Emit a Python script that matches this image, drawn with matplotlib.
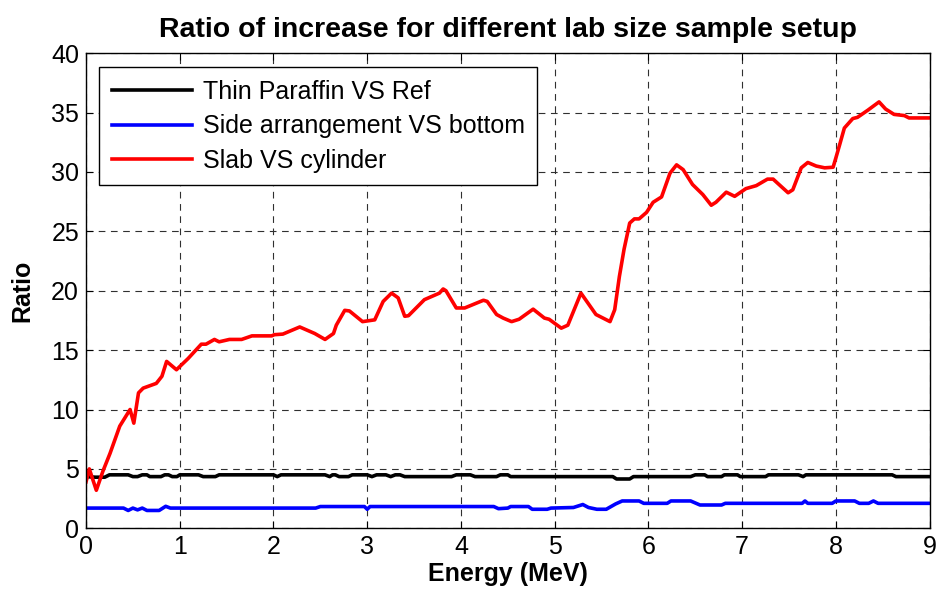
import matplotlib
matplotlib.use("Agg")
import matplotlib.pyplot as plt

plt.rcParams['font.family'] = ['Liberation Sans', 'DejaVu Sans']

# Thin Paraffin VS Ref
black_x = [0, 0.1, 0.2, 0.25, 0.45, 0.5, 0.55, 0.6, 0.65, 0.68, 0.8, 0.84, 0.88, 0.92, 0.97,
           1.0, 1.2, 1.25, 1.38, 1.42, 2.0, 2.04, 2.08, 2.55, 2.6, 2.63, 2.66, 2.7, 2.8, 2.84,
           3.0, 3.05, 3.1, 3.2, 3.25, 3.3, 3.35, 3.4, 3.9, 3.95, 4.1, 4.15, 4.38, 4.42, 4.5,
           4.53, 5.62, 5.66, 5.8, 5.84, 6.45, 6.5, 6.6, 6.63, 6.78, 6.81, 6.95, 6.98, 7.25,
           7.28, 7.6, 7.65, 7.68, 8.6, 8.64, 9.0]
black_y = [4.35, 4.3, 4.3, 4.5, 4.5, 4.35, 4.35, 4.5, 4.5, 4.35, 4.35, 4.5, 4.5, 4.35, 4.35,
           4.5, 4.5, 4.35, 4.35, 4.5, 4.5, 4.35, 4.5, 4.5, 4.35, 4.5, 4.5, 4.35, 4.35, 4.5,
           4.5, 4.35, 4.5, 4.5, 4.35, 4.5, 4.5, 4.35, 4.35, 4.5, 4.5, 4.35, 4.35, 4.5, 4.5,
           4.35, 4.35, 4.15, 4.15, 4.35, 4.35, 4.5, 4.5, 4.35, 4.35, 4.5, 4.5, 4.35, 4.35,
           4.5, 4.5, 4.35, 4.5, 4.5, 4.35, 4.35]

# Side arrangement VS bottom
blue_x = [0, 0.4, 0.45, 0.5, 0.55, 0.6, 0.65, 0.78, 0.85, 0.9, 2.45, 2.5, 2.97, 3.0, 3.03,
          4.35, 4.4, 4.5, 4.53, 4.72, 4.76, 4.92, 4.96, 5.2, 5.3, 5.36, 5.45, 5.55, 5.65,
          5.72, 5.9, 5.95, 6.2, 6.24, 6.45, 6.55, 6.78, 6.82, 7.64, 7.67, 7.7, 7.96, 8.0,
          8.2, 8.25, 8.35, 8.4, 8.45, 9.0]
blue_y = [1.7, 1.7, 1.5, 1.7, 1.55, 1.7, 1.5, 1.5, 1.85, 1.7, 1.7, 1.83, 1.83, 1.6, 1.83,
          1.83, 1.65, 1.7, 1.83, 1.83, 1.6, 1.6, 1.7, 1.75, 2.0, 1.75, 1.6, 1.6, 2.05,
          2.3, 2.3, 2.1, 2.1, 2.3, 2.3, 1.96, 1.96, 2.1, 2.1, 2.3, 2.1, 2.1, 2.3,
          2.3, 2.1, 2.1, 2.3, 2.1, 2.1]

# Slab VS cylinder
red_x = [0, 0.035, 0.11, 0.18, 0.256, 0.36, 0.47, 0.51, 0.56, 0.61, 0.75, 0.81, 0.86, 0.965,
         1.09, 1.23, 1.28, 1.37, 1.42, 1.53, 1.66, 1.77, 1.98, 2.01, 2.1, 2.28, 2.44, 2.55,
         2.64, 2.67, 2.76, 2.81, 2.95, 3.08, 3.17, 3.26, 3.33, 3.40, 3.44, 3.61, 3.77, 3.81,
         3.84, 3.95, 4.04, 4.24, 4.28, 4.38, 4.45, 4.54, 4.62, 4.77, 4.89, 4.94, 5.07, 5.14,
         5.28, 5.44, 5.59, 5.64, 5.69, 5.74, 5.80, 5.85, 5.90, 5.98, 6.05, 6.14, 6.23, 6.30,
         6.37, 6.47, 6.58, 6.67, 6.72, 6.83, 6.92, 7.04, 7.15, 7.27, 7.33, 7.42, 7.49, 7.54,
         7.63, 7.70, 7.79, 7.88, 7.97, 8.0, 8.04, 8.09, 8.18, 8.23, 8.34, 8.46, 8.53, 8.62,
         8.73, 8.78, 9.0]
red_y = [3.9, 5.0, 3.2, 4.8, 6.3, 8.6, 10.0, 8.85, 11.4, 11.8, 12.2, 12.8, 14.05, 13.35,
         14.3, 15.5, 15.5, 15.9, 15.7, 15.9, 15.9, 16.2, 16.2, 16.3, 16.35, 16.95, 16.4, 15.9,
         16.4, 17.1, 18.35, 18.3, 17.4, 17.55, 19.1, 19.8, 19.4, 17.85, 17.9, 19.25, 19.8, 20.15,
         20.0, 18.55, 18.55, 19.2, 19.1, 18.0, 17.7, 17.4, 17.6, 18.45, 17.7, 17.6, 16.85, 17.1,
         19.8, 18.0, 17.4, 18.4, 21.2, 23.5, 25.7, 26.05, 26.05, 26.6, 27.45, 27.9, 29.9, 30.6,
         30.2, 28.95, 28.1, 27.2, 27.45, 28.3, 27.95, 28.6, 28.85, 29.4, 29.4, 28.75, 28.25, 28.5,
         30.35, 30.8, 30.5, 30.35, 30.4, 31.2, 32.3, 33.7, 34.5, 34.6, 35.2, 35.9, 35.3, 34.85,
         34.75, 34.55, 34.55]

fig = plt.figure(figsize=(9.4, 5.98), dpi=100)
ax = fig.add_axes([0.0915, 0.1166, 0.8975, 0.7944])

ax.plot(black_x, black_y, color='black', lw=2.6, label='Thin Paraffin VS Ref')
ax.plot(blue_x, blue_y, color='blue', lw=2.6, label='Side arrangement VS bottom')
ax.plot(red_x, red_y, color='red', lw=2.6, label='Slab VS cylinder')

ax.set_xlim(0, 9)
ax.set_ylim(0, 40)
ax.set_xticks(range(0, 10))
ax.set_yticks(range(0, 41, 5))
ax.grid(True, color='#303030', linestyle=(0, (6, 5)), linewidth=0.8)
ax.tick_params(direction='in', top=True, right=True, labelsize=18, length=5, pad=5)
for s in ax.spines.values():
    s.set_linewidth(1.0)

ax.set_title('Ratio of increase for different lab size sample setup',
             fontsize=20.5, fontweight='bold', pad=12)
ax.set_xlabel('Energy (MeV)', fontsize=18, fontweight='bold', labelpad=2)
ax.set_ylabel('Ratio', fontsize=18, fontweight='bold', labelpad=12)

leg = ax.legend(loc='upper left', bbox_to_anchor=(0.0154, 0.97), borderaxespad=0,
                fontsize=18, fancybox=False, edgecolor='black', framealpha=1,
                handlelength=3.2, handletextpad=0.45, borderpad=0.5, labelspacing=0.42)
leg.get_frame().set_linewidth(1.0)

fig.savefig('out.png', dpi=100)
